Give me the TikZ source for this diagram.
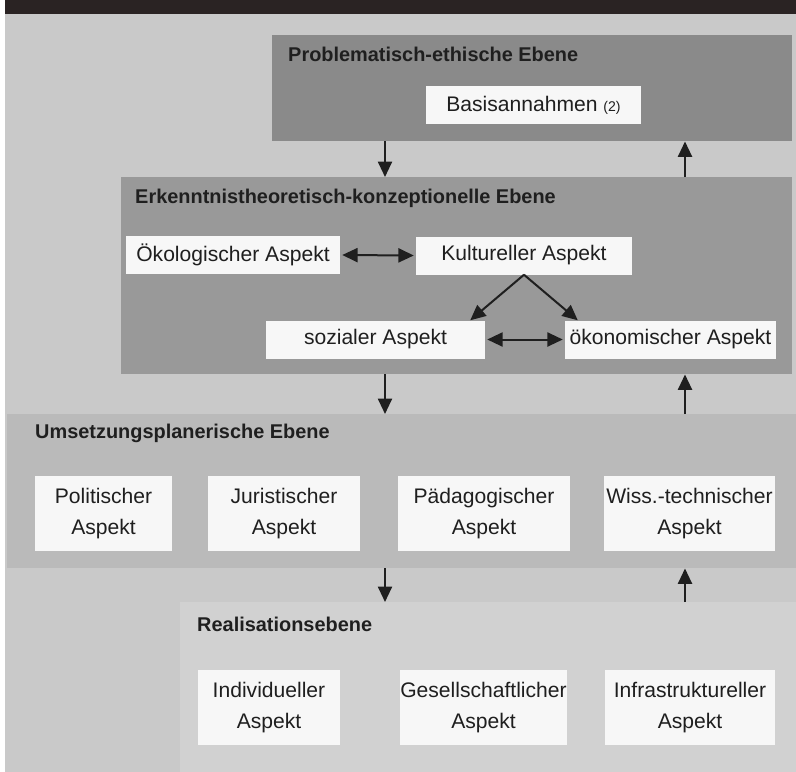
\documentclass[tikz,border=0pt]{standalone}
\usepackage{fontspec}
\setmainfont{Liberation Sans}
\usepackage{xcolor}
\usetikzlibrary{arrows.meta, positioning, calc}

\definecolor{pagegray}{gray}{0.79}
\definecolor{bargray}{HTML}{2A2323}
\definecolor{probgray}{gray}{0.54}
\definecolor{erkgray}{gray}{0.60}
\definecolor{umsgray}{gray}{0.73}
\definecolor{realgray}{gray}{0.82}
\definecolor{boxwhite}{gray}{0.97}
\definecolor{inkgray}{gray}{0.12}

\begin{document}
\begin{tikzpicture}[
  x=0.3mm, y=-0.3mm,
  font=\fontsize{18}{27}\selectfont,
  text=inkgray,
  layerbox/.style={rectangle, anchor=north west, inner sep=0pt},
  layertitle/.style={anchor=base west, inner sep=0pt, font=\fontsize{17}{20}\selectfont\bfseries},
  aspect/.style={rectangle, fill=boxwhite, minimum height=11.4mm, inner sep=0pt, text centered},
  aspecttwo/.style={rectangle, fill=boxwhite, minimum height=22.5mm, inner sep=0pt, align=center},
  arrow/.style={draw=inkgray, line width=0.6mm, -{Triangle[length=4.6mm, width=4.2mm]}},
  biarrow/.style={draw=inkgray, line width=0.6mm, {Triangle[length=4.6mm, width=4.2mm]}-{Triangle[length=4.6mm, width=4.2mm]}}
]
\useasboundingbox (0,0) rectangle (796,772);
\fill[white] (0,0) rectangle (5,772);
\fill[pagegray] (5,0) rectangle (796,772);
\fill[bargray] (5,0) rectangle (796,14);

% the four layers
\node (ebene1) [layerbox, fill=probgray, minimum width=156mm, minimum height=31.8mm] at (272,35) {};
\node (ebene2) [layerbox, fill=erkgray, minimum width=201.3mm, minimum height=59.1mm] at (121,177) {};
\node (ebene3) [layerbox, fill=umsgray, minimum width=236.7mm, minimum height=46.2mm] at (7,414) {};
\node (ebene4) [layerbox, fill=realgray, minimum width=184.8mm, minimum height=51mm] at (180,602) {};

\node (titel1) [layertitle] at (288,61) {Problematisch-ethische Ebene};
\node (titel2) [layertitle] at (135,203) {Erkenntnistheoretisch-konzeptionelle Ebene};
\node (titel3) [layertitle] at (35,438) {Umsetzungsplanerische Ebene};
\node (titel4) [layertitle] at (197,631) {Realisationsebene};

% aspects
\node (basis) [aspect, minimum width=64.5mm] at (533.5,105) {Basisannahmen {\fontsize{12}{14}\selectfont(2)}};
\node (oekol) [aspect, minimum width=64.2mm] at (233,255) {Ökologischer Aspekt};
\node (kult) [aspect, minimum width=64.8mm] at (524,255.5) {Kultureller Aspekt};
\node (sozial) [aspect, minimum width=65.7mm] at (375.5,339.5) {sozialer Aspekt};
\node (oekon) [aspect, minimum width=63.3mm] at (670.5,339.5) {ökonomischer Aspekt};

\node (polit) [aspecttwo, minimum width=41.1mm] at (103.5,513.5) {Politischer\\Aspekt};
\node (jur) [aspecttwo, minimum width=45.6mm] at (284,513.5) {Juristischer\\Aspekt};
\node (paed) [aspecttwo, minimum width=51.6mm] at (484,513.5) {Pädagogischer\\Aspekt};
\node (wiss) [aspecttwo, minimum width=51.3mm] at (689.5,513.5) {Wiss.-technischer\\Aspekt};

\node (indiv) [aspecttwo, minimum width=42.6mm] at (269,707.5) {Individueller\\Aspekt};
\node (gesell) [aspecttwo, minimum width=50.1mm] at (483.5,707.5) {Gesellschaftlicher\\Aspekt};
\node (infra) [aspecttwo, minimum width=51mm] at (690,707.5) {Infrastruktureller\\Aspekt};

% connectors
\coordinate (down) at (385,0);
\coordinate (up) at (685,0);
\draw [arrow] (ebene1.south -| down) -- (ebene2.north -| down);
\draw [arrow] (ebene2.north -| up) -- (ebene1.south -| up);
\draw [arrow] (ebene2.south -| down) -- (ebene3.north -| down);
\draw [arrow] (ebene3.north -| up) -- (ebene2.south -| up);
\draw [arrow] (ebene3.south -| down) -- (ebene4.north -| down);
\draw [arrow] (ebene4.north -| up) -- (ebene3.south -| up);

\draw [biarrow] ([xshift=0.6mm]oekol.east) -- ([xshift=-0.6mm]kult.west);
\draw [biarrow] ([xshift=0.6mm]sozial.east) -- ([xshift=-0.6mm]oekon.west);
\draw [arrow] (kult.south) -- ([xshift=-4.5mm]sozial.north east);
\draw [arrow] (kult.south) -- ([xshift=3.9mm]oekon.north west);
\end{tikzpicture}
\end{document}
